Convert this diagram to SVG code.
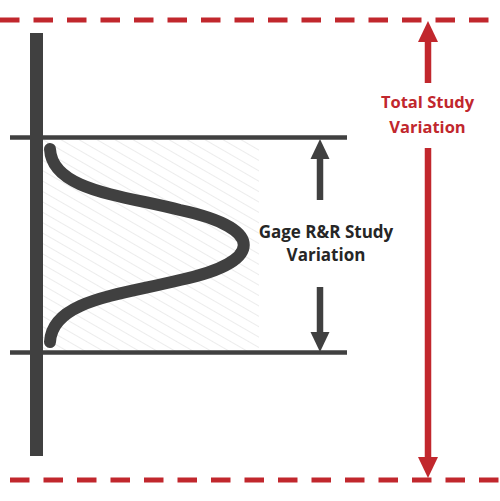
<svg xmlns="http://www.w3.org/2000/svg" width="500" height="501" viewBox="0 0 500 501">
<defs>
<style>
.red{stroke:#C1272D;fill:none}
.dash{stroke:#C1272D;stroke-width:5;stroke-dasharray:19.5 14}
.dark{stroke:#404040;fill:none}
.lbl{font-family:"Open Sans","Liberation Sans",sans-serif;font-weight:bold;font-size:16.5px;text-anchor:middle}
.g{font-size:17px}
</style>
<pattern id="hatch" patternUnits="userSpaceOnUse" width="9" height="9" patternTransform="rotate(30)">
<line x1="0" y1="0" x2="9" y2="0" stroke="#e6e6e6" stroke-width="1.5"/>
</pattern>
</defs>
<rect width="500" height="501" fill="#fff"/>
<rect x="43" y="140" width="216" height="211" fill="url(#hatch)"/>
<g id="connectors">
<line class="dash" x1="0" y1="20" x2="500" y2="20"/>
<line class="dash" x1="10" y1="480" x2="500" y2="480"/>
<line class="dark" x1="36.5" y1="33" x2="36.5" y2="456" stroke-width="13"/>
<line class="dark" x1="10" y1="137.5" x2="347" y2="137.5" stroke-width="4.5"/>
<line class="dark" x1="10" y1="352.5" x2="347" y2="352.5" stroke-width="4.5"/>
<path class="dark" d="M50,149 C52,190 120,195 180,210 C265,228 265,262 180,280 C120,295 52,300 50,342" stroke-width="12" stroke-linecap="round"/>
<line class="dark" x1="320" y1="200" x2="320" y2="157" stroke-width="6.5"/>
<polygon points="320,139 310.5,159 329.5,159" fill="#404040"/>
<line class="dark" x1="320" y1="287" x2="320" y2="334" stroke-width="6.5"/>
<polygon points="320,352 310.5,332 329.5,332" fill="#404040"/>
<line class="red" x1="428" y1="40" x2="428" y2="83" stroke-width="6.5"/>
<polygon points="428,21 418,42 438,42" fill="#C1272D"/>
<line class="red" x1="428" y1="148" x2="428" y2="460" stroke-width="6.5"/>
<polygon points="428,478 418,457 438,457" fill="#C1272D"/>
</g>
<g id="gage-label">
<text class="lbl g" x="326" y="238" fill="#262626">Gage R&amp;R Study</text>
<text class="lbl g" x="326" y="261" fill="#262626">Variation</text>
</g>
<g id="total-label">
<text class="lbl" x="427.5" y="108" fill="#C1272D">Total Study</text>
<text class="lbl" x="427.5" y="133" fill="#C1272D">Variation</text>
</g>
</svg>
